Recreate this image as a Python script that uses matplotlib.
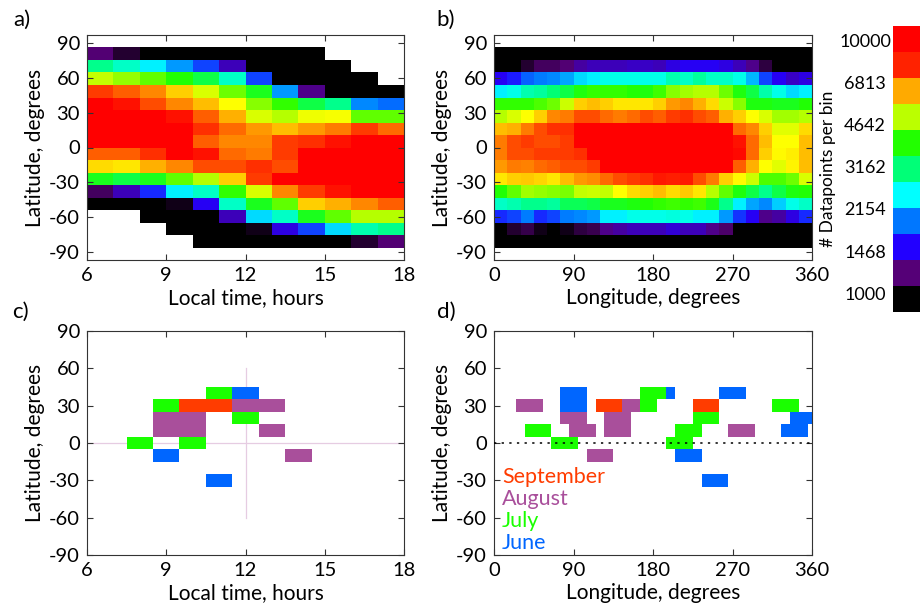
import numpy as np
import matplotlib
matplotlib.use("Agg")
import matplotlib.pyplot as plt
from matplotlib.colors import LinearSegmentedColormap, ListedColormap, LogNorm, BoundaryNorm
from matplotlib.cm import ScalarMappable

plt.rcParams['font.family'] = ['Lato', 'DejaVu Sans']
plt.rcParams['axes.unicode_minus'] = False

N = np.nan
R = 11000  # saturated bins (>= 10000)
K = 800    # bins below the colour range (black)

# a) datapoints per bin, rows north -> south, columns 6-7h ... 17-18h
counts_lt = [
    [1200, 1050, K, K, K, K, K, K, K, N, N, N],
    [3000, 2700, 2400, 2050, 1750, 1350, K, K, K, K, N, N],
    [5000, 4700, 4300, 3900, 3400, 2700, 1750, K, K, K, K, N],
    [7600, 7200, 6700, 5900, 5200, 4400, 3700, 2050, 1250, K, K, K],
    [R, 9000, 7400, 6700, 6100, 5450, 4600, 4000, 3400, 3000, 2000, 1900],
    [R, R, R, 9000, 7200, 6200, 5200, 4900, 5350, 5400, 4300, 4300],
    [R, R, R, R, 7800, 7000, 6500, 6100, 6500, 6800, 7600, 7000],
    [R, R, R, R, 7200, 6700, 6700, 7600, 7800, 9000, R, R],
    [7200, 7200, 7800, R, 9000, 7000, 6800, 7600, R, R, R, R],
    [5800, 5650, 6200, 6700, 7400, 7400, 7800, 7400, R, R, R, R],
    [3700, 3400, 3700, 4300, 4900, 5900, 7600, R, R, R, R, R],
    [1150, 1350, 1650, 2400, 2700, 4000, 5200, 6700, 7600, 9000, R, R],
    [K, K, K, 1000, 1500, 2700, 3700, 4300, 5900, 6200, 6700, 7200],
    [N, N, K, K, K, 1350, 2300, 2700, 3700, 4300, 4900, 4900],
    [N, N, N, K, K, K, 1000, 1450, 1750, 2300, 2800, 3000],
    [N, N, N, N, K, K, K, K, K, K, 1050, 1200],
]

# b) datapoints per bin, rows north -> south, 15 degree longitude columns
counts_lon = [
    [K] * 24,
    [K, K, 1050, 1150, 1150, 1200, 1300, 1350, 1350, 1350, 1380, 1380,
     1350, 1450, 1500, 1500, 1500, 1450, 1350, 1250, 1080, K, K, K],
    [1500, 1600, 1850, 1950, 2000, 2100, 2300, 2400, 2550, 2550, 2550, 2550,
     2550, 2800, 2700, 2900, 2700, 2700, 2550, 2150, 1750, 1500, 1380, 1450],
    [2400, 2550, 2800, 2900, 3100, 3400, 3800, 4000, 4000, 4000, 3900, 3800,
     4100, 4600, 4750, 4900, 4900, 4400, 3800, 3400, 2850, 2550, 2300, 2400],
    [4000, 4000, 4000, 4200, 4400, 5100, 5900, 6100, 5900, 5700, 5650, 5700,
     5900, 6500, 6700, 6200, 5800, 5100, 4600, 3800, 3800, 3700, 3700, 3900],
    [4900, 5200, 5450, 5900, 6700, 6800, 7400, 7400, 7000, 6800, 7000, 7400,
     7200, 7600, 7800, 7400, 7200, 6200, 5900, 5450, 5200, 4750, 4750, 4900],
    [6100, 6200, 6800, 7400, 7800, 7800, R, R, R, R, R, R,
     R, R, R, R, R, R, 7000, 6700, 5900, 5250, 5250, 5800],
    [6800, 7400, 7600, 7400, 7400, 7600, R, R, R, R, R, R,
     R, R, R, R, R, R, 9000, 7000, 6100, 5450, 5450, 6100],
    [6800, 7400, 7400, 7600, 7600, 7600, 7800, R, R, R, R, R,
     R, R, R, R, R, R, 9500, 7000, 5900, 5500, 5600, 6100],
    [6500, 6800, 6750, 7000, 7200, 7400, 7400, 7600, R, R, R, R,
     R, R, R, R, R, R, 7200, 6200, 5450, 5250, 5550, 6100],
    [5700, 5900, 6000, 5850, 5650, 6100, 6500, 6600, 7000, 7400, 7600, 7800,
     8500, 8200, 8500, 7400, 6800, 5900, 5500, 5100, 4200, 4200, 4400, 5200],
    [3900, 4300, 4750, 4700, 4600, 4500, 5000, 5100, 5000, 5450, 5800, 5900,
     6100, 5800, 6000, 5700, 4900, 4300, 3800, 3400, 3000, 3400, 3800, 3900],
    [2700, 2800, 3000, 3000, 2900, 3300, 3300, 3400, 3700, 3700, 3800, 3900,
     4000, 4100, 4000, 4100, 3750, 3000, 2400, 2100, 2000, 2250, 2550, 2700],
    [1650, 1750, 1950, 1650, 1750, 1950, 2000, 2050, 2400, 2400, 2550, 2550,
     2550, 2600, 2550, 2400, 2400, 2050, 1700, 1500, 1250, 1300, 1450, 1650],
    [K, 1050, 1100, 1000, 950, 1000, 1080, 1120, 1250, 1300, 1350, 1350,
     1350, 1420, 1350, 1350, 1250, 1170, 950, K, K, K, K, K],
    [K] * 24,
]

cbar_ticks = [1000, 1468, 2154, 3162, 4642, 6813, 10000]

# c), d) bins seen per month: (local time or longitude, latitude)
months = ['June', 'July', 'August', 'September']
month_colors = ['#0066ff', '#1aff00', '#a94f9b', '#ff3c00']

lt_cells = {
    'June': [(12, 40), (9, -10), (11, -30)],
    'July': [(11, 40), (9, 30), (12, 20), (8, 0), (10, 0)],
    'August': [(12, 30), (13, 30), (9, 20), (10, 20), (9, 10), (10, 10), (13, 10), (14, -10)],
    'September': [(10, 30), (11, 30)],
}
lon_cells = {
    'June': [(80, 40), (90, 40), (100, 40), (200, 40), (260, 40), (270, 40), (280, 40),
             (80, 30), (90, 30), (100, 30), (340, 20), (350, 20), (360, 20),
             (330, 10), (340, 10), (350, 10), (210, -10), (220, -10), (230, -10),
             (240, -30), (250, -30), (260, -30)],
    'July': [(170, 40), (180, 40), (190, 40), (170, 30), (180, 30), (320, 30), (330, 30), (340, 30),
             (230, 20), (240, 20), (250, 20), (40, 10), (50, 10), (60, 10),
             (210, 10), (220, 10), (230, 10), (70, 0), (80, 0), (90, 0),
             (200, 0), (210, 0), (220, 0)],
    'August': [(30, 30), (40, 30), (50, 30), (150, 30), (160, 30),
               (80, 20), (90, 20), (100, 20), (130, 20), (140, 20), (150, 20),
               (90, 10), (100, 10), (110, 10), (130, 10), (140, 10), (150, 10),
               (270, 10), (280, 10), (290, 10), (110, -10), (120, -10), (130, -10)],
    'September': [(120, 30), (130, 30), (140, 30), (230, 30), (240, 30), (250, 30)],
}

# colour scale
bar_colors = ['#000000', '#550077', '#2200ff', '#0077ff', '#00ffff', '#00ff77',
              '#22ff00', '#bbff00', '#ffaa00', '#ff2200', '#ff0000']
anchors = [(0.0, '#000000')]
for k, c in enumerate(bar_colors):
    anchors.append(((k + 0.5) / 11, c))
    if k == 7:
        anchors.append((7.9 / 11, '#ffff00'))
anchors.append((1.0, '#ff0000'))
cmap = LinearSegmentedColormap.from_list('counts', anchors)
cmap.set_under('black')
cmap.set_bad('white')
norm = LogNorm(vmin=843, vmax=11390)

W, H = 923, 612
fig = plt.figure(figsize=(W / 100, H / 100), dpi=100)


def box(x0, y0, x1, y1):
    return [x0 / W, 1 - y1 / H, (x1 - x0) / W, (y1 - y0) / H]


def style(ax, xticks, xlabel):
    ax.set_xticks(xticks)
    ax.set_yticks([90, 60, 30, 0, -30, -60, -90])
    ax.tick_params(direction='in', length=4, width=0.8, top=True, right=True,
                   labelsize=14.5, pad=5, color='#333333')
    for s in ax.spines.values():
        s.set_linewidth(0.8)
        s.set_color('#333333')
    ax.set_xlabel(xlabel, fontsize=15, labelpad=3)
    ax.set_ylabel('Latitude, degrees', fontsize=15, labelpad=3)


lat_edges = np.linspace(86.4, -86.4, 17)

ax_a = fig.add_axes(box(87, 35, 404, 260))
ax_a.pcolormesh(np.arange(6, 19), lat_edges, np.array(counts_lt, dtype=float),
                cmap=cmap, norm=norm, shading='flat', antialiased=False)
ax_a.set_xlim(6, 18)
ax_a.set_ylim(-97.2, 97.2)
style(ax_a, [6, 9, 12, 15, 18], 'Local time, hours')

ax_b = fig.add_axes(box(494, 35, 812, 260))
ax_b.pcolormesh(np.arange(0, 361, 15), lat_edges, np.array(counts_lon, dtype=float),
                cmap=cmap, norm=norm, shading='flat', antialiased=False)
ax_b.set_xlim(0, 360)
ax_b.set_ylim(-97.2, 97.2)
style(ax_b, [0, 90, 180, 270, 360], 'Longitude, degrees')


def month_grid(x_centers, lat_centers, cells):
    grid = np.full((len(lat_centers), len(x_centers)), np.nan)
    for m, name in enumerate(months):
        for x, lat in cells[name]:
            grid[list(lat_centers).index(lat), list(x_centers).index(x)] = m
    return grid


month_cmap = ListedColormap(month_colors)
month_norm = BoundaryNorm([-0.5, 0.5, 1.5, 2.5, 3.5], 4)
lat_centers = np.arange(-90, 91, 10)

ax_c = fig.add_axes(box(87, 331, 404, 555))
hours = np.arange(6, 19)
ax_c.pcolormesh(np.arange(5.5, 19, 1), np.arange(-95, 96, 10),
                month_grid(hours, lat_centers, lt_cells),
                cmap=month_cmap, norm=month_norm, shading='flat', antialiased=False)
ax_c.axhline(0, color='#e6cce2', lw=0.9, zorder=0)
ax_c.plot([12, 12], [-60, 60], color='#e6cce2', lw=0.9, zorder=0)
ax_c.set_xlim(6, 18)
ax_c.set_ylim(-90, 90)
style(ax_c, [6, 9, 12, 15, 18], 'Local time, hours')

ax_d = fig.add_axes(box(494, 331, 812, 555))
lons = np.arange(0, 361, 10)
ax_d.pcolormesh(np.arange(-5, 366, 10), np.arange(-95, 96, 10),
                month_grid(lons, lat_centers, lon_cells),
                cmap=month_cmap, norm=month_norm, shading='flat', antialiased=False)
ax_d.axhline(0, color='black', lw=1.1, ls=(0, (1.5, 3.5)), zorder=3)
ax_d.set_xlim(0, 360)
ax_d.set_ylim(-90, 90)
style(ax_d, [0, 90, 180, 270, 360], 'Longitude, degrees')
for i, name in enumerate(months[::-1]):
    ax_d.text(0.025, 0.32 - i * 0.098, name, transform=ax_d.transAxes,
              color=month_colors[::-1][i], fontsize=15.5, va='baseline', ha='left')

# colour bar
cax = fig.add_axes(box(893, 26, 920, 312))
cb = fig.colorbar(ScalarMappable(norm=norm, cmap=ListedColormap(bar_colors)), cax=cax)
cb.minorticks_off()
cb.set_ticks(cbar_ticks)
cb.set_ticklabels([str(t) for t in cbar_ticks])
cb.outline.set_visible(False)
cax.yaxis.set_ticks_position('left')
cax.yaxis.set_label_position('left')
cax.tick_params(length=0, pad=28 * 0.72, labelsize=13)
for lab in cax.get_yticklabels():
    lab.set_ha('center')
cb.set_label('# Datapoints per bin', fontsize=12.5, labelpad=2)

for lab, x, y in [('a)', 22, 20), ('b)', 446, 20), ('c)', 20, 312), ('d)', 446, 312)]:
    fig.text(x / W, 1 - y / H, lab, fontsize=16, ha='center', va='center')

fig.savefig('out.png', dpi=100)
